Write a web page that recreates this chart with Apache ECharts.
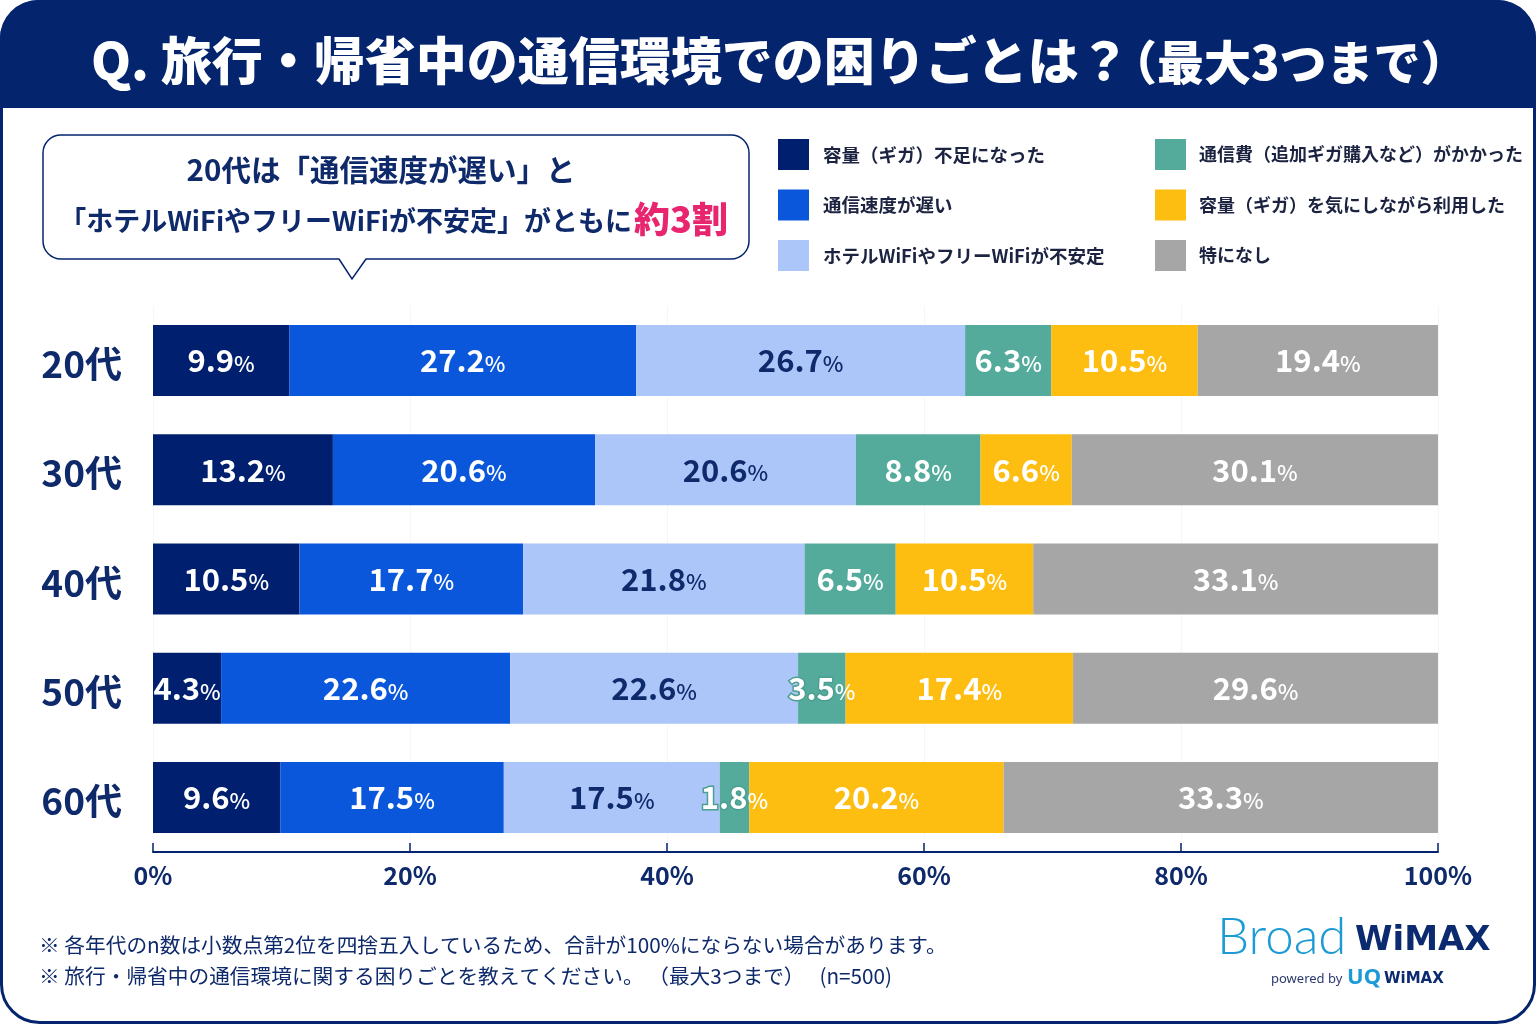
<!DOCTYPE html>
<html>
<head>
<meta charset="utf-8">
<title>旅行・帰省中の通信環境での困りごと</title>
<style>
html, body { margin: 0; padding: 0; background: #fff; }
#chartDiv { width: 1536px; height: 1024px; }
</style>
<script src="https://cdn.jsdelivr.net/npm/echarts@6/dist/echarts.min.js"></script>
</head>
<body>
<div id="chartDiv"></div>
<script>
// 初始化图表
let myChart = echarts.init(document.getElementById('chartDiv'));

// data
const ages = ['20代', '30代', '40代', '50代', '60代'];
const seriesNames = [
    '容量（ギガ）不足になった',
    '通信速度が遅い',
    'ホテルWiFiやフリーWiFiが不安定',
    '通信費（追加ギガ購入など）がかかった',
    '容量（ギガ）を気にしながら利用した',
    '特になし'
];
const seriesColors = ['#00206f', '#0a57dc', '#adc6f9', '#54ab9c', '#fdbe11', '#a6a6a6'];
const labelColors = ['#fff', '#fff', '#0f2a6b', '#fff', '#fff', '#fff'];

// bar lengths as measured on the picture (they differ a little from the printed figures)
const gigaShort = [10.6, 14.0, 11.4, 5.3, 9.9];
const slowSpeed = [27.0, 20.4, 17.4, 22.5, 17.4];
const unstableWifi = [25.6, 20.3, 21.9, 22.4, 16.8];
const extraCost = [6.7, 9.7, 7.1, 3.7, 2.3];
const gigaWorry = [11.4, 7.1, 10.7, 17.7, 19.8];
const nothing = [18.7, 28.5, 31.5, 28.4, 33.8];
const barValues = [gigaShort, slowSpeed, unstableWifi, extraCost, gigaWorry, nothing];

// figures as printed on the bars
const gigaShortText = ['9.9', '13.2', '10.5', '4.3', '9.6'];
const slowSpeedText = ['27.2', '20.6', '17.7', '22.6', '17.5'];
const unstableWifiText = ['26.7', '20.6', '21.8', '22.6', '17.5'];
const extraCostText = ['6.3', '8.8', '6.5', '3.5', '1.8'];
const gigaWorryText = ['10.5', '6.6', '10.5', '17.4', '20.2'];
const nothingText = ['19.4', '30.1', '33.1', '29.6', '33.3'];
const barTexts = [gigaShortText, slowSpeedText, unstableWifiText, extraCostText, gigaWorryText, nothingText];

const jp = '"Noto Sans CJK JP", "Noto Sans", sans-serif';
const navy = '#0f2a6b';
const frame = '#04246e';

let series = [];
for (let i = 0; i < seriesNames.length; i++) {
    series.push({
        name: seriesNames[i],
        type: 'bar',
        stack: 'total',
        barWidth: 71,
        itemStyle: {color: seriesColors[i]},
        data: barValues[i].map(function (v, j) {
            let text = barTexts[i][j];
            // thin teal segments: the label spills over, so it gets an outline
            let outlined = i === 3 && parseFloat(text) < 4;
            let stroke = outlined ? {textBorderColor: '#4b9f90', textBorderWidth: 3} : {textBorderWidth: 0};
            return {
                value: v,
                label: {
                    show: true,
                    position: 'inside',
                    formatter: '{n|' + text + '}{p|%}',
                    rich: {
                        n: Object.assign({fontFamily: jp, fontSize: 31, fontWeight: 700, color: labelColors[i]}, stroke),
                        p: {fontFamily: jp, fontSize: 22, fontWeight: 500, color: labelColors[i], padding: [6, 0, 0, 0]}
                    }
                }
            };
        })
    });
}

// 图表设置
let option = {
    backgroundColor: '#fff',
    animation: false,
    title: {
        text: 'Q. 旅行・帰省中の通信環境での困りごとは？',
        left: 86,
        top: 30,
        textStyle: {fontFamily: jp, fontSize: 51, fontWeight: 900, color: '#fff'}
    },
    legend: [
        {
            data: seriesNames.slice(0, 3),
            orient: 'vertical',
            left: 773,
            top: 134,
            itemWidth: 31,
            itemHeight: 31,
            itemGap: 19.5,
            icon: 'rect',
            selectedMode: false,
            textStyle: {fontFamily: jp, fontSize: 18.5, fontWeight: 700, color: '#1c2340', padding: [0, 0, 0, 9]}
        },
        {
            data: seriesNames.slice(3),
            orient: 'vertical',
            left: 1150,
            top: 134,
            itemWidth: 31,
            itemHeight: 31,
            itemGap: 19.5,
            icon: 'rect',
            selectedMode: false,
            textStyle: {fontFamily: jp, fontSize: 18, fontWeight: 700, color: '#1c2340', padding: [0, 0, 0, 8]}
        }
    ],
    grid: {left: 153, right: 98, top: 306, height: 546},
    xAxis: {
        type: 'value',
        min: 0,
        max: 100,
        interval: 20,
        axisLine: {show: true, lineStyle: {color: frame, width: 2}},
        axisTick: {show: true, inside: true, length: 9, lineStyle: {color: frame, width: 1.5}},
        splitLine: {show: true, lineStyle: {color: '#f4f6fa', width: 1}},
        axisLabel: {
            formatter: '{value}%',
            margin: 11,
            fontFamily: jp,
            fontSize: 25,
            fontWeight: 700,
            color: navy
        }
    },
    yAxis: {
        type: 'category',
        inverse: true,
        data: ages,
        axisLine: {show: false},
        axisTick: {show: false},
        axisLabel: {
            margin: 31,
            formatter: '{a|{value}}',
            rich: {
                a: {padding: [7, 0, 0, 0], fontFamily: jp, fontSize: 37, fontWeight: 700, color: navy}
            }
        }
    },
    series: series,
    graphic: [
        // outer frame and header band
        {type: 'rect', z: -1, shape: {x: 1.5, y: 1.5, width: 1533, height: 1021, r: 38}, style: {fill: '#fff', stroke: frame, lineWidth: 3}},
        {type: 'rect', z: -1, shape: {x: 0, y: 0, width: 1536, height: 108, r: [38, 38, 0, 0]}, style: {fill: frame}},
        // the bracketed part of the heading sits tighter than full-width spacing would
        {type: 'text', style: {x: 1110, y: 62, text: '（最大3つまで）', verticalAlign: 'middle', fontFamily: jp, fontSize: 47, fontWeight: 900, fill: '#fff'}},
        // callout
        {type: 'rect', shape: {x: 43, y: 135, width: 706, height: 124, r: 18}, style: {fill: '#fff', stroke: frame, lineWidth: 1.5}},
        {type: 'polygon', shape: {points: [[339, 258], [352, 279], [366, 258]]}, style: {fill: '#fff', stroke: 'none'}},
        {type: 'polyline', shape: {points: [[339, 259], [352, 279], [366, 259]]}, style: {fill: 'none', stroke: frame, lineWidth: 1.5}},
        {type: 'text', style: {x: 381, y: 170, text: '20代は「通信速度が遅い」と', align: 'center', verticalAlign: 'middle', fontFamily: jp, fontSize: 29.5, fontWeight: 700, fill: navy}},
        {type: 'text', style: {x: 632, y: 221, text: '「ホテルWiFiやフリーWiFiが不安定」がともに', align: 'right', verticalAlign: 'middle', fontFamily: jp, fontSize: 27, fontWeight: 700, fill: navy}},
        {type: 'text', style: {x: 634, y: 219, text: '約3割', align: 'left', verticalAlign: 'middle', fontFamily: jp, fontSize: 36, fontWeight: 900, fill: '#e8266f'}},
        // footnotes
        {type: 'text', style: {x: 39, y: 945, text: '※ 各年代のn数は小数点第2位を四捨五入しているため、合計が100%にならない場合があります。', verticalAlign: 'middle', fontFamily: jp, fontSize: 20.7, fontWeight: 400, fill: navy}},
        {type: 'text', style: {x: 39, y: 976, text: '※ 旅行・帰省中の通信環境に関する困りごとを教えてください。 （最大3つまで）　 (n=500)', verticalAlign: 'middle', fontFamily: jp, fontSize: 20.7, fontWeight: 400, fill: navy}},
        // logo
        {type: 'text', style: {x: 1217, y: 938, text: 'Broad', verticalAlign: 'middle', fontFamily: 'Lato, sans-serif', fontSize: 51, fontWeight: 300, fill: '#1c9ad6'}},
        {type: 'text', style: {x: 1355, y: 941, text: 'WiMAX', verticalAlign: 'middle', fontFamily: '"DejaVu Sans", sans-serif', fontSize: 34, fontWeight: 700, fill: '#0b2a6f'}},
        {type: 'text', style: {x: 1271, y: 979, text: 'powered by', verticalAlign: 'middle', fontFamily: '"Noto Sans", sans-serif', fontSize: 13, fill: '#2b3a6e'}},
        {type: 'text', style: {x: 1347, y: 978, text: 'UQ', verticalAlign: 'middle', fontFamily: '"Noto Sans", sans-serif', fontSize: 22, fontWeight: 700, fill: '#1c9ad6'}},
        {type: 'text', style: {x: 1384, y: 979, text: 'WiMAX', verticalAlign: 'middle', fontFamily: '"DejaVu Sans", sans-serif', fontSize: 15, fontWeight: 700, fill: '#0b2a6f'}}
    ]
};
myChart.setOption(option);
</script>
</body>
</html>
